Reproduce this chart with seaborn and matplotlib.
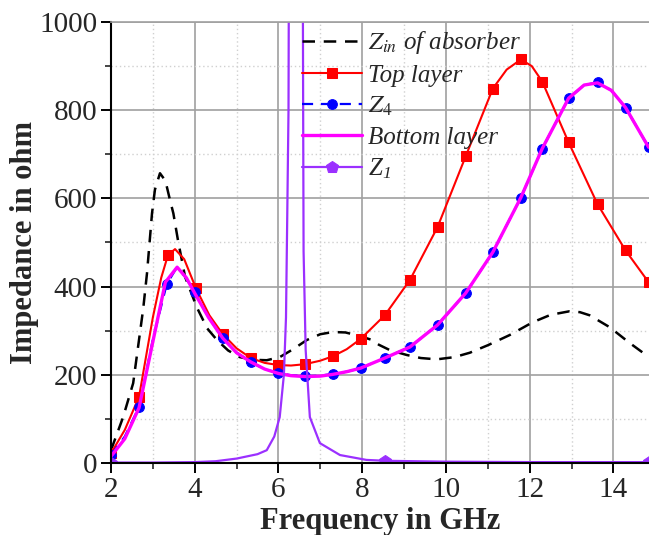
import numpy as np
import pandas as pd
import seaborn as sns
import matplotlib.pyplot as plt
from matplotlib.ticker import MultipleLocator

# Zin of absorber (black dashed)
freq_zin = [2.0, 2.29, 2.53, 2.77, 2.86, 2.98, 3.05, 3.17, 3.3, 3.41, 3.49, 3.6, 3.77, 4.05, 4.3,
            4.53, 4.8, 5.08, 5.4, 5.72, 6.03, 6.35, 6.68, 7.0, 7.3, 7.6, 7.94, 8.2, 8.4, 8.66,
            9.06, 9.4, 9.78, 10.2, 10.57, 11.0, 11.52, 12.07, 12.5, 12.95, 13.2, 13.43, 13.91,
            14.39, 14.85]
zin = [29, 104, 181, 350, 430, 566, 620, 657, 640, 596, 566, 505, 422, 353, 305,
       279, 255, 240, 234, 233, 240, 258, 279, 292, 297, 296, 288, 280, 268, 256,
       245, 238, 235, 240, 250, 267, 290, 319, 336, 344, 342, 335, 308,
       272, 240]

# Top layer (red squares)
freq_top = [2.0, 2.33, 2.67, 3.0, 3.2, 3.36, 3.53, 3.75, 4.03, 4.35, 4.67, 5.0, 5.34, 5.67, 6.0,
            6.3, 6.63, 7.0, 7.3, 7.63, 7.96, 8.54, 9.14, 9.8, 10.47, 11.12, 11.45, 11.79,
            12.05, 12.3, 12.93, 13.62, 14.29, 14.84]
top = [22, 75, 150, 330, 420, 471, 485, 462, 396, 335, 292, 260, 238, 227, 222,
       221, 224, 232, 242, 258, 281, 335, 415, 535, 695, 849, 892, 915,
       900, 865, 727, 587, 482, 410]

# Z4 (blue circles, dashed)
freq_z4 = [2.0, 2.33, 2.67, 3.0, 3.33, 3.55, 3.75, 4.0, 4.33, 4.67, 5.0, 5.34, 5.67, 6.0, 6.3,
           6.63, 7.0, 7.3, 7.63, 7.96, 8.54, 9.14, 9.8, 10.47, 11.12, 11.79, 12.3, 12.93,
           13.3, 13.62, 13.95, 14.29, 14.84]
z4 = [18, 60, 127, 280, 405, 440, 425, 388, 330, 283, 250, 229, 213, 204, 199,
      197, 198, 202, 207, 215, 238, 263, 313, 385, 478, 602, 713, 827,
      857, 863, 845, 806, 716]

# Bottom layer (magenta)
freq_bot = [2.0, 2.33, 2.67, 3.0, 3.3, 3.58, 3.8, 4.0, 4.33, 4.67, 5.0, 5.34, 5.67, 6.0, 6.3,
            6.63, 7.0, 7.3, 7.63, 7.96, 8.54, 9.14, 9.8, 10.47, 11.12, 11.79, 12.3, 12.93,
            13.3, 13.62, 13.95, 14.29, 14.84]
bottom = [15, 55, 125, 275, 410, 444, 420, 385, 330, 283, 250, 229, 213, 203, 198,
          196, 197, 201, 207, 215, 238, 263, 313, 385, 478, 602, 713, 827,
          857, 862, 845, 806, 716]

# Z1 (purple, resonance spike)
freq_z1 = [2.0, 3.0, 4.0, 4.5, 5.0, 5.5, 5.72, 5.9, 6.03, 6.13, 6.18, 6.21, 6.24, 6.25, 6.42,
           6.58, 6.59, 6.6, 6.65, 6.75, 6.99, 7.47, 8.1, 8.54, 10.0, 12.0, 14.84]
z1 = [1, 1, 2, 4, 10, 20, 29, 60, 104, 200, 330, 560, 800, 1150, 3000,
      1150, 800, 480, 256, 104, 45, 18, 7, 5, 3, 2, 2]

# frequencies where markers are drawn
marker_freq = [2.0, 2.67, 3.33, 3.36, 4.0, 4.03, 4.67, 5.34, 6.0, 6.63, 7.3, 7.96, 8.54, 9.14,
               9.8, 10.47, 11.12, 11.79, 12.3, 12.93, 13.62, 14.29, 14.84]
z1_marker_freq = [2.0, 8.54, 14.84]


def marks(freqs, which):
    return [i for i, f in enumerate(freqs) if f in which]


sns.set_style("ticks")
plt.rcParams['font.family'] = ['Liberation Serif', 'DejaVu Serif']
plt.rcParams['mathtext.fontset'] = 'stix'

fig = plt.figure(figsize=(6.49, 5.35), dpi=100)
ax = fig.add_axes([0.171, 0.1346, 0.829, 0.8243])

dash = (0, (5, 3.5))
sns.lineplot(x=freq_zin, y=zin, ax=ax, color='black', linestyle=dash, lw=1.8,
             label=r'$Z_{in}$ of absorber', sort=False)
sns.lineplot(x=freq_top, y=top, ax=ax, color='#ff0000', lw=1.5, marker='s', ms=7,
             markevery=marks(freq_top, marker_freq), mec='#ff0000',
             label='Top layer', sort=False)
sns.lineplot(x=freq_z4, y=z4, ax=ax, color='#0000ff', linestyle=dash, lw=1.6,
             marker='o', ms=7, markevery=marks(freq_z4, marker_freq), mec='#0000ff',
             label=r'$Z_4$', sort=False)
sns.lineplot(x=freq_bot, y=bottom, ax=ax, color='#ff00ff', lw=2.4,
             label='Bottom layer', sort=False)
sns.lineplot(x=freq_z1, y=z1, ax=ax, color='#9b30ff', lw=1.6, marker='p', ms=9,
             markevery=marks(freq_z1, z1_marker_freq), mec='#9b30ff',
             label=r'$\mathregular{Z_1}$', sort=False)

ax.set_xlim(2, 14.85)
ax.set_ylim(0, 1000)
ax.xaxis.set_major_locator(MultipleLocator(2))
ax.xaxis.set_minor_locator(MultipleLocator(1))
ax.yaxis.set_major_locator(MultipleLocator(200))
ax.yaxis.set_minor_locator(MultipleLocator(100))
ax.grid(which='major', color='#a0a0a0', lw=1.2, ls='-')
ax.grid(which='minor', color='#d0d0d0', lw=1.0, ls=(0, (1, 2)))
ax.set_axisbelow(True)

ax.tick_params(which='major', direction='out', length=7, width=1.4, labelsize=21,
               pad=3, color='black')
ax.tick_params(which='minor', direction='out', length=4, width=1.2)
for s in ['left', 'bottom']:
    ax.spines[s].set_linewidth(1.5)
    ax.spines[s].set_color('black')
ax.spines['top'].set_color('#a0a0a0')
ax.spines['top'].set_linewidth(1.2)
ax.spines['right'].set_visible(False)

ax.set_xlabel('Frequency in GHz', fontsize=22, fontweight='bold', labelpad=3)
ax.set_ylabel('Impedance in ohm', fontsize=22, fontweight='bold', labelpad=0)

leg = ax.legend(loc='upper left', bbox_to_anchor=(0.355, 0.983), frameon=False,
                prop={'style': 'italic', 'size': 18}, handlelength=2.4,
                handletextpad=0.25, labelspacing=0.32, borderpad=0, borderaxespad=0)

fig.savefig('out.png', dpi=100)
